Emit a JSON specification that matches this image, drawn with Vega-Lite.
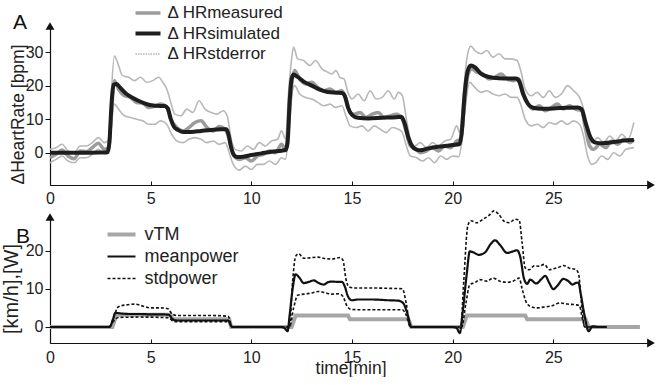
{
  "$schema": "https://vega.github.io/schema/vega-lite/v6.json",
  "background": "white",
  "padding": {"left": 1, "top": 0, "right": 0, "bottom": 0},
  "bounds": "flush",
  "spacing": 32,
  "resolve": {
    "scale": {"color": "independent", "strokeWidth": "independent", "strokeDash": "independent"},
    "legend": {"color": "independent", "strokeWidth": "independent", "strokeDash": "independent"}
  },
  "config": {
    "font": "Liberation Sans",
    "view": {"stroke": null},
    "axis": {"grid": false, "labelFlush": false, "domainColor": "#111", "tickColor": "#111", "domainWidth": 1.2, "tickWidth": 1, "labelColor": "#222", "titleColor": "#222", "labelFont": "Liberation Sans", "titleFont": "Liberation Sans", "labelFontSize": 16, "titleFontSize": 17.5, "titleFontWeight": "normal"},
    "title": {"font": "Liberation Sans", "fontWeight": "normal", "fontSize": 21, "color": "#111"}
  },
  "vconcat": [
    {
      "width": 601,
      "height": 159,
      "title": {"text": "A", "anchor": "start", "frame": "group", "offset": 0, "dx": -37, "dy": 33},
      "layer": [
        {
          "data": {"values": [
            {"t":0,"v":0,"s":"simulated"},{"t":1,"v":0,"s":"simulated"},{"t":2,"v":0,"s":"simulated"},{"t":2.85,"v":0.1,"s":"simulated"},{"t":2.95,"v":3,"s":"simulated"},{"t":3.05,"v":14,"s":"simulated"},{"t":3.15,"v":20.2,"s":"simulated"},{"t":3.3,"v":20.5,"s":"simulated"},{"t":3.5,"v":19.3,"s":"simulated"},{"t":3.8,"v":17.5,"s":"simulated"},{"t":4.1,"v":16.4,"s":"simulated"},{"t":4.5,"v":15.2,"s":"simulated"},{"t":4.9,"v":14.3,"s":"simulated"},{"t":5.3,"v":14.0,"s":"simulated"},{"t":5.7,"v":13.9,"s":"simulated"},{"t":5.85,"v":13.2,"s":"simulated"},{"t":6.0,"v":10,"s":"simulated"},{"t":6.15,"v":7.8,"s":"simulated"},{"t":6.35,"v":6.8,"s":"simulated"},{"t":6.6,"v":6.2,"s":"simulated"},{"t":7.0,"v":6.2,"s":"simulated"},{"t":7.5,"v":6.5,"s":"simulated"},{"t":8.0,"v":6.8,"s":"simulated"},{"t":8.5,"v":7.0,"s":"simulated"},{"t":8.75,"v":7.0,"s":"simulated"},{"t":8.85,"v":5.8,"s":"simulated"},{"t":9.0,"v":1.5,"s":"simulated"},{"t":9.15,"v":-0.8,"s":"simulated"},{"t":9.3,"v":-1.3,"s":"simulated"},{"t":9.6,"v":-1.2,"s":"simulated"},{"t":10.0,"v":-0.7,"s":"simulated"},{"t":10.5,"v":-0.2,"s":"simulated"},{"t":11.0,"v":0.3,"s":"simulated"},{"t":11.5,"v":0.6,"s":"simulated"},{"t":11.7,"v":0.8,"s":"simulated"},{"t":11.8,"v":3,"s":"simulated"},{"t":11.9,"v":15,"s":"simulated"},{"t":12.0,"v":22,"s":"simulated"},{"t":12.1,"v":23.3,"s":"simulated"},{"t":12.3,"v":22.6,"s":"simulated"},{"t":12.6,"v":21.2,"s":"simulated"},{"t":13.0,"v":20,"s":"simulated"},{"t":13.4,"v":18.8,"s":"simulated"},{"t":13.8,"v":18.1,"s":"simulated"},{"t":14.2,"v":17.9,"s":"simulated"},{"t":14.5,"v":17.8,"s":"simulated"},{"t":14.65,"v":16.8,"s":"simulated"},{"t":14.8,"v":13.5,"s":"simulated"},{"t":15.0,"v":11.3,"s":"simulated"},{"t":15.3,"v":10.4,"s":"simulated"},{"t":15.8,"v":10.2,"s":"simulated"},{"t":16.5,"v":10.4,"s":"simulated"},{"t":17.2,"v":10.6,"s":"simulated"},{"t":17.45,"v":10.7,"s":"simulated"},{"t":17.6,"v":9,"s":"simulated"},{"t":17.8,"v":4.5,"s":"simulated"},{"t":18.0,"v":1.8,"s":"simulated"},{"t":18.2,"v":0.9,"s":"simulated"},{"t":18.4,"v":0.7,"s":"simulated"},{"t":18.8,"v":1.3,"s":"simulated"},{"t":19.5,"v":1.9,"s":"simulated"},{"t":20.0,"v":2.3,"s":"simulated"},{"t":20.35,"v":2.6,"s":"simulated"},{"t":20.45,"v":6,"s":"simulated"},{"t":20.6,"v":18,"s":"simulated"},{"t":20.75,"v":24.5,"s":"simulated"},{"t":20.9,"v":26,"s":"simulated"},{"t":21.1,"v":25.5,"s":"simulated"},{"t":21.4,"v":23.6,"s":"simulated"},{"t":21.8,"v":22.6,"s":"simulated"},{"t":22.3,"v":22.2,"s":"simulated"},{"t":22.8,"v":22.1,"s":"simulated"},{"t":23.15,"v":22.1,"s":"simulated"},{"t":23.3,"v":21.3,"s":"simulated"},{"t":23.5,"v":17.5,"s":"simulated"},{"t":23.75,"v":14.5,"s":"simulated"},{"t":24.0,"v":13.4,"s":"simulated"},{"t":24.4,"v":13.1,"s":"simulated"},{"t":25.0,"v":13.2,"s":"simulated"},{"t":25.6,"v":13.4,"s":"simulated"},{"t":26.2,"v":13.5,"s":"simulated"},{"t":26.4,"v":13.0,"s":"simulated"},{"t":26.6,"v":9,"s":"simulated"},{"t":26.85,"v":4.5,"s":"simulated"},{"t":27.1,"v":3.0,"s":"simulated"},{"t":27.4,"v":2.8,"s":"simulated"},{"t":28.0,"v":3.2,"s":"simulated"},{"t":28.5,"v":3.6,"s":"simulated"},{"t":29.0,"v":3.8,"s":"simulated"},

            {"t":0,"v":-1.5,"s":"measured"},{"t":0.3,"v":-0.5,"s":"measured"},{"t":0.6,"v":0.8,"s":"measured"},{"t":0.9,"v":-1,"s":"measured"},{"t":1.2,"v":-1.8,"s":"measured"},{"t":1.5,"v":0.5,"s":"measured"},{"t":1.8,"v":0.3,"s":"measured"},{"t":2.1,"v":1.5,"s":"measured"},{"t":2.4,"v":2.8,"s":"measured"},{"t":2.7,"v":1.0,"s":"measured"},{"t":2.9,"v":1.5,"s":"measured"},{"t":3.05,"v":12,"s":"measured"},{"t":3.2,"v":21.5,"s":"measured"},{"t":3.4,"v":19,"s":"measured"},{"t":3.7,"v":17,"s":"measured"},{"t":4.0,"v":16.5,"s":"measured"},{"t":4.3,"v":15,"s":"measured"},{"t":4.6,"v":14.8,"s":"measured"},{"t":4.9,"v":13.5,"s":"measured"},{"t":5.2,"v":13.8,"s":"measured"},{"t":5.5,"v":14.5,"s":"measured"},{"t":5.8,"v":13.5,"s":"measured"},{"t":6.0,"v":10,"s":"measured"},{"t":6.3,"v":7.5,"s":"measured"},{"t":6.6,"v":6.5,"s":"measured"},{"t":6.9,"v":7.5,"s":"measured"},{"t":7.2,"v":9,"s":"measured"},{"t":7.5,"v":9.5,"s":"measured"},{"t":7.8,"v":7.5,"s":"measured"},{"t":8.1,"v":6.5,"s":"measured"},{"t":8.4,"v":7.8,"s":"measured"},{"t":8.7,"v":7,"s":"measured"},{"t":8.9,"v":4,"s":"measured"},{"t":9.1,"v":-0.5,"s":"measured"},{"t":9.4,"v":-2,"s":"measured"},{"t":9.7,"v":-1.5,"s":"measured"},{"t":10.0,"v":-2.5,"s":"measured"},{"t":10.3,"v":-1,"s":"measured"},{"t":10.6,"v":-0.5,"s":"measured"},{"t":10.9,"v":0.5,"s":"measured"},{"t":11.2,"v":0,"s":"measured"},{"t":11.5,"v":2.5,"s":"measured"},{"t":11.7,"v":1,"s":"measured"},{"t":11.85,"v":8,"s":"measured"},{"t":12.0,"v":20,"s":"measured"},{"t":12.15,"v":24.5,"s":"measured"},{"t":12.4,"v":22,"s":"measured"},{"t":12.7,"v":20.5,"s":"measured"},{"t":13.0,"v":21,"s":"measured"},{"t":13.3,"v":19.5,"s":"measured"},{"t":13.6,"v":18.5,"s":"measured"},{"t":13.9,"v":19,"s":"measured"},{"t":14.2,"v":18,"s":"measured"},{"t":14.5,"v":18.5,"s":"measured"},{"t":14.7,"v":16,"s":"measured"},{"t":14.9,"v":12,"s":"measured"},{"t":15.1,"v":11.5,"s":"measured"},{"t":15.4,"v":12,"s":"measured"},{"t":15.7,"v":10.5,"s":"measured"},{"t":16.0,"v":11.5,"s":"measured"},{"t":16.3,"v":12,"s":"measured"},{"t":16.6,"v":10.5,"s":"measured"},{"t":16.9,"v":11,"s":"measured"},{"t":17.2,"v":11.5,"s":"measured"},{"t":17.5,"v":10,"s":"measured"},{"t":17.7,"v":6,"s":"measured"},{"t":17.9,"v":2,"s":"measured"},{"t":18.1,"v":1.5,"s":"measured"},{"t":18.4,"v":0,"s":"measured"},{"t":18.7,"v":0.5,"s":"measured"},{"t":19.0,"v":1.5,"s":"measured"},{"t":19.3,"v":0.5,"s":"measured"},{"t":19.6,"v":2,"s":"measured"},{"t":19.9,"v":1.5,"s":"measured"},{"t":20.2,"v":3.5,"s":"measured"},{"t":20.4,"v":4,"s":"measured"},{"t":20.55,"v":12,"s":"measured"},{"t":20.75,"v":23,"s":"measured"},{"t":20.95,"v":25,"s":"measured"},{"t":21.2,"v":24,"s":"measured"},{"t":21.5,"v":23.5,"s":"measured"},{"t":21.8,"v":22,"s":"measured"},{"t":22.1,"v":22.5,"s":"measured"},{"t":22.4,"v":23.5,"s":"measured"},{"t":22.7,"v":22,"s":"measured"},{"t":23.0,"v":21.5,"s":"measured"},{"t":23.3,"v":22,"s":"measured"},{"t":23.5,"v":18,"s":"measured"},{"t":23.75,"v":14.5,"s":"measured"},{"t":24.0,"v":13,"s":"measured"},{"t":24.3,"v":14,"s":"measured"},{"t":24.6,"v":12.5,"s":"measured"},{"t":24.9,"v":13.5,"s":"measured"},{"t":25.2,"v":14.5,"s":"measured"},{"t":25.5,"v":13,"s":"measured"},{"t":25.8,"v":14,"s":"measured"},{"t":26.1,"v":13,"s":"measured"},{"t":26.4,"v":12.5,"s":"measured"},{"t":26.6,"v":7,"s":"measured"},{"t":26.8,"v":2,"s":"measured"},{"t":27.0,"v":1,"s":"measured"},{"t":27.3,"v":2.5,"s":"measured"},{"t":27.6,"v":1.5,"s":"measured"},{"t":27.9,"v":3.5,"s":"measured"},{"t":28.2,"v":2.5,"s":"measured"},{"t":28.5,"v":4,"s":"measured"},{"t":28.8,"v":3,"s":"measured"},{"t":29.0,"v":4,"s":"measured"},

            {"t":0,"v":1,"s":"stderror","g":"up"},{"t":0.3,"v":1.5,"s":"stderror","g":"up"},{"t":0.6,"v":2.5,"s":"stderror","g":"up"},{"t":0.9,"v":0.5,"s":"stderror","g":"up"},{"t":1.2,"v":0,"s":"stderror","g":"up"},{"t":1.5,"v":2,"s":"stderror","g":"up"},{"t":1.8,"v":2,"s":"stderror","g":"up"},{"t":2.1,"v":3,"s":"stderror","g":"up"},{"t":2.4,"v":4.5,"s":"stderror","g":"up"},{"t":2.7,"v":3,"s":"stderror","g":"up"},{"t":2.95,"v":4,"s":"stderror","g":"up"},{"t":3.05,"v":18,"s":"stderror","g":"up"},{"t":3.2,"v":28.8,"s":"stderror","g":"up"},{"t":3.35,"v":27,"s":"stderror","g":"up"},{"t":3.6,"v":23,"s":"stderror","g":"up"},{"t":3.9,"v":22.5,"s":"stderror","g":"up"},{"t":4.2,"v":21.5,"s":"stderror","g":"up"},{"t":4.5,"v":22.5,"s":"stderror","g":"up"},{"t":4.8,"v":21,"s":"stderror","g":"up"},{"t":5.1,"v":21.5,"s":"stderror","g":"up"},{"t":5.4,"v":22.5,"s":"stderror","g":"up"},{"t":5.6,"v":21,"s":"stderror","g":"up"},{"t":5.8,"v":19,"s":"stderror","g":"up"},{"t":6.0,"v":15,"s":"stderror","g":"up"},{"t":6.2,"v":11.5,"s":"stderror","g":"up"},{"t":6.5,"v":11,"s":"stderror","g":"up"},{"t":6.8,"v":13,"s":"stderror","g":"up"},{"t":7.1,"v":12,"s":"stderror","g":"up"},{"t":7.4,"v":15.5,"s":"stderror","g":"up"},{"t":7.7,"v":13,"s":"stderror","g":"up"},{"t":8.0,"v":12,"s":"stderror","g":"up"},{"t":8.3,"v":11.5,"s":"stderror","g":"up"},{"t":8.6,"v":12.5,"s":"stderror","g":"up"},{"t":8.8,"v":11,"s":"stderror","g":"up"},{"t":9.0,"v":4,"s":"stderror","g":"up"},{"t":9.2,"v":1,"s":"stderror","g":"up"},{"t":9.5,"v":0.5,"s":"stderror","g":"up"},{"t":9.8,"v":2,"s":"stderror","g":"up"},{"t":10.1,"v":1,"s":"stderror","g":"up"},{"t":10.4,"v":3,"s":"stderror","g":"up"},{"t":10.7,"v":2,"s":"stderror","g":"up"},{"t":11.0,"v":3.5,"s":"stderror","g":"up"},{"t":11.3,"v":4,"s":"stderror","g":"up"},{"t":11.5,"v":6.5,"s":"stderror","g":"up"},{"t":11.7,"v":4,"s":"stderror","g":"up"},{"t":11.85,"v":18,"s":"stderror","g":"up"},{"t":12.0,"v":28,"s":"stderror","g":"up"},{"t":12.1,"v":31.5,"s":"stderror","g":"up"},{"t":12.3,"v":28,"s":"stderror","g":"up"},{"t":12.6,"v":27.5,"s":"stderror","g":"up"},{"t":12.9,"v":26,"s":"stderror","g":"up"},{"t":13.2,"v":27.5,"s":"stderror","g":"up"},{"t":13.5,"v":25,"s":"stderror","g":"up"},{"t":13.8,"v":24,"s":"stderror","g":"up"},{"t":14.0,"v":23.5,"s":"stderror","g":"up"},{"t":14.2,"v":24.5,"s":"stderror","g":"up"},{"t":14.4,"v":22.5,"s":"stderror","g":"up"},{"t":14.6,"v":22,"s":"stderror","g":"up"},{"t":14.8,"v":18,"s":"stderror","g":"up"},{"t":15.0,"v":16,"s":"stderror","g":"up"},{"t":15.3,"v":17.5,"s":"stderror","g":"up"},{"t":15.6,"v":15.5,"s":"stderror","g":"up"},{"t":15.9,"v":18.5,"s":"stderror","g":"up"},{"t":16.2,"v":16,"s":"stderror","g":"up"},{"t":16.5,"v":16.5,"s":"stderror","g":"up"},{"t":16.8,"v":18.5,"s":"stderror","g":"up"},{"t":17.1,"v":16,"s":"stderror","g":"up"},{"t":17.3,"v":18,"s":"stderror","g":"up"},{"t":17.5,"v":17,"s":"stderror","g":"up"},{"t":17.7,"v":10,"s":"stderror","g":"up"},{"t":17.9,"v":4,"s":"stderror","g":"up"},{"t":18.1,"v":2,"s":"stderror","g":"up"},{"t":18.4,"v":3,"s":"stderror","g":"up"},{"t":18.7,"v":1.5,"s":"stderror","g":"up"},{"t":19.0,"v":3,"s":"stderror","g":"up"},{"t":19.3,"v":2,"s":"stderror","g":"up"},{"t":19.6,"v":3.5,"s":"stderror","g":"up"},{"t":19.9,"v":4,"s":"stderror","g":"up"},{"t":20.2,"v":8,"s":"stderror","g":"up"},{"t":20.35,"v":6,"s":"stderror","g":"up"},{"t":20.5,"v":15,"s":"stderror","g":"up"},{"t":20.7,"v":28,"s":"stderror","g":"up"},{"t":20.9,"v":31.8,"s":"stderror","g":"up"},{"t":21.1,"v":30.5,"s":"stderror","g":"up"},{"t":21.4,"v":29.5,"s":"stderror","g":"up"},{"t":21.7,"v":30.5,"s":"stderror","g":"up"},{"t":22.0,"v":28.5,"s":"stderror","g":"up"},{"t":22.3,"v":29.5,"s":"stderror","g":"up"},{"t":22.6,"v":28,"s":"stderror","g":"up"},{"t":22.9,"v":28,"s":"stderror","g":"up"},{"t":23.2,"v":27.5,"s":"stderror","g":"up"},{"t":23.4,"v":24,"s":"stderror","g":"up"},{"t":23.6,"v":19,"s":"stderror","g":"up"},{"t":23.9,"v":17,"s":"stderror","g":"up"},{"t":24.2,"v":18,"s":"stderror","g":"up"},{"t":24.5,"v":16.5,"s":"stderror","g":"up"},{"t":24.8,"v":18.5,"s":"stderror","g":"up"},{"t":25.1,"v":16.5,"s":"stderror","g":"up"},{"t":25.4,"v":17.5,"s":"stderror","g":"up"},{"t":25.7,"v":20,"s":"stderror","g":"up"},{"t":26.0,"v":18.5,"s":"stderror","g":"up"},{"t":26.3,"v":16.5,"s":"stderror","g":"up"},{"t":26.5,"v":13,"s":"stderror","g":"up"},{"t":26.7,"v":6,"s":"stderror","g":"up"},{"t":26.9,"v":3,"s":"stderror","g":"up"},{"t":27.2,"v":4.5,"s":"stderror","g":"up"},{"t":27.5,"v":3,"s":"stderror","g":"up"},{"t":27.8,"v":5,"s":"stderror","g":"up"},{"t":28.1,"v":3.5,"s":"stderror","g":"up"},{"t":28.4,"v":5.5,"s":"stderror","g":"up"},{"t":28.7,"v":4,"s":"stderror","g":"up"},{"t":29.0,"v":9,"s":"stderror","g":"up"},

            {"t":0,"v":-3,"s":"stderror","g":"lo"},{"t":0.3,"v":-2,"s":"stderror","g":"lo"},{"t":0.6,"v":-1,"s":"stderror","g":"lo"},{"t":0.9,"v":-2.5,"s":"stderror","g":"lo"},{"t":1.2,"v":-3,"s":"stderror","g":"lo"},{"t":1.5,"v":-1.5,"s":"stderror","g":"lo"},{"t":1.8,"v":-1.5,"s":"stderror","g":"lo"},{"t":2.1,"v":-0.5,"s":"stderror","g":"lo"},{"t":2.4,"v":1,"s":"stderror","g":"lo"},{"t":2.7,"v":-0.5,"s":"stderror","g":"lo"},{"t":2.95,"v":0,"s":"stderror","g":"lo"},{"t":3.05,"v":8,"s":"stderror","g":"lo"},{"t":3.2,"v":14.5,"s":"stderror","g":"lo"},{"t":3.4,"v":13,"s":"stderror","g":"lo"},{"t":3.7,"v":11,"s":"stderror","g":"lo"},{"t":4.0,"v":10.5,"s":"stderror","g":"lo"},{"t":4.3,"v":10,"s":"stderror","g":"lo"},{"t":4.6,"v":9.5,"s":"stderror","g":"lo"},{"t":4.9,"v":8.5,"s":"stderror","g":"lo"},{"t":5.2,"v":8.5,"s":"stderror","g":"lo"},{"t":5.5,"v":9.5,"s":"stderror","g":"lo"},{"t":5.8,"v":8.5,"s":"stderror","g":"lo"},{"t":6.0,"v":6,"s":"stderror","g":"lo"},{"t":6.3,"v":3.5,"s":"stderror","g":"lo"},{"t":6.6,"v":3,"s":"stderror","g":"lo"},{"t":6.9,"v":4,"s":"stderror","g":"lo"},{"t":7.2,"v":4.5,"s":"stderror","g":"lo"},{"t":7.5,"v":4,"s":"stderror","g":"lo"},{"t":7.8,"v":3,"s":"stderror","g":"lo"},{"t":8.1,"v":3.5,"s":"stderror","g":"lo"},{"t":8.4,"v":2.5,"s":"stderror","g":"lo"},{"t":8.7,"v":3,"s":"stderror","g":"lo"},{"t":8.9,"v":0,"s":"stderror","g":"lo"},{"t":9.1,"v":-3.5,"s":"stderror","g":"lo"},{"t":9.4,"v":-5.2,"s":"stderror","g":"lo"},{"t":9.7,"v":-4,"s":"stderror","g":"lo"},{"t":10.0,"v":-5,"s":"stderror","g":"lo"},{"t":10.3,"v":-3.5,"s":"stderror","g":"lo"},{"t":10.6,"v":-3.5,"s":"stderror","g":"lo"},{"t":10.9,"v":-2.5,"s":"stderror","g":"lo"},{"t":11.2,"v":-3.5,"s":"stderror","g":"lo"},{"t":11.5,"v":-1.5,"s":"stderror","g":"lo"},{"t":11.7,"v":-2,"s":"stderror","g":"lo"},{"t":11.85,"v":6,"s":"stderror","g":"lo"},{"t":12.0,"v":17,"s":"stderror","g":"lo"},{"t":12.15,"v":20,"s":"stderror","g":"lo"},{"t":12.4,"v":17.5,"s":"stderror","g":"lo"},{"t":12.7,"v":16.5,"s":"stderror","g":"lo"},{"t":13.0,"v":16,"s":"stderror","g":"lo"},{"t":13.3,"v":15,"s":"stderror","g":"lo"},{"t":13.6,"v":14,"s":"stderror","g":"lo"},{"t":13.9,"v":14.5,"s":"stderror","g":"lo"},{"t":14.2,"v":13.5,"s":"stderror","g":"lo"},{"t":14.5,"v":14,"s":"stderror","g":"lo"},{"t":14.7,"v":11,"s":"stderror","g":"lo"},{"t":14.9,"v":8,"s":"stderror","g":"lo"},{"t":15.2,"v":7.5,"s":"stderror","g":"lo"},{"t":15.5,"v":8,"s":"stderror","g":"lo"},{"t":15.8,"v":6.5,"s":"stderror","g":"lo"},{"t":16.1,"v":8,"s":"stderror","g":"lo"},{"t":16.4,"v":7,"s":"stderror","g":"lo"},{"t":16.7,"v":6,"s":"stderror","g":"lo"},{"t":17.0,"v":7.5,"s":"stderror","g":"lo"},{"t":17.3,"v":7,"s":"stderror","g":"lo"},{"t":17.5,"v":6,"s":"stderror","g":"lo"},{"t":17.7,"v":2,"s":"stderror","g":"lo"},{"t":17.9,"v":-1,"s":"stderror","g":"lo"},{"t":18.2,"v":-1.5,"s":"stderror","g":"lo"},{"t":18.5,"v":-2.5,"s":"stderror","g":"lo"},{"t":18.8,"v":-1.5,"s":"stderror","g":"lo"},{"t":19.1,"v":-3,"s":"stderror","g":"lo"},{"t":19.4,"v":-1,"s":"stderror","g":"lo"},{"t":19.7,"v":-2,"s":"stderror","g":"lo"},{"t":20.0,"v":-1,"s":"stderror","g":"lo"},{"t":20.3,"v":-1.2,"s":"stderror","g":"lo"},{"t":20.45,"v":3,"s":"stderror","g":"lo"},{"t":20.65,"v":15,"s":"stderror","g":"lo"},{"t":20.85,"v":21,"s":"stderror","g":"lo"},{"t":21.1,"v":19.5,"s":"stderror","g":"lo"},{"t":21.4,"v":18,"s":"stderror","g":"lo"},{"t":21.7,"v":18.5,"s":"stderror","g":"lo"},{"t":22.0,"v":17.5,"s":"stderror","g":"lo"},{"t":22.3,"v":17,"s":"stderror","g":"lo"},{"t":22.6,"v":17.5,"s":"stderror","g":"lo"},{"t":22.9,"v":16.5,"s":"stderror","g":"lo"},{"t":23.2,"v":16.5,"s":"stderror","g":"lo"},{"t":23.4,"v":14,"s":"stderror","g":"lo"},{"t":23.6,"v":10,"s":"stderror","g":"lo"},{"t":23.9,"v":8,"s":"stderror","g":"lo"},{"t":24.2,"v":8.5,"s":"stderror","g":"lo"},{"t":24.5,"v":7.5,"s":"stderror","g":"lo"},{"t":24.8,"v":9,"s":"stderror","g":"lo"},{"t":25.1,"v":8.5,"s":"stderror","g":"lo"},{"t":25.4,"v":9.5,"s":"stderror","g":"lo"},{"t":25.7,"v":8.5,"s":"stderror","g":"lo"},{"t":26.0,"v":9.5,"s":"stderror","g":"lo"},{"t":26.3,"v":8.5,"s":"stderror","g":"lo"},{"t":26.5,"v":5,"s":"stderror","g":"lo"},{"t":26.7,"v":-1,"s":"stderror","g":"lo"},{"t":26.9,"v":-3.5,"s":"stderror","g":"lo"},{"t":27.1,"v":-3,"s":"stderror","g":"lo"},{"t":27.4,"v":-1,"s":"stderror","g":"lo"},{"t":27.7,"v":-2,"s":"stderror","g":"lo"},{"t":28.0,"v":0,"s":"stderror","g":"lo"},{"t":28.3,"v":-1,"s":"stderror","g":"lo"},{"t":28.6,"v":1,"s":"stderror","g":"lo"},{"t":29.0,"v":1.5,"s":"stderror","g":"lo"}
          ]},
          "encoding": {
            "x": {"field": "t", "type": "quantitative", "scale": {"domain": [0, 29.85], "nice": false, "zero": false},
                  "axis": {"values": [0, 5, 10, 15, 20, 25], "title": null, "tickSize": -4, "labelPadding": 9}},
            "y": {"field": "v", "type": "quantitative", "scale": {"domain": [-9.64, 37.8], "nice": false, "zero": false},
                  "axis": {"values": [0, 10, 20, 30], "title": "ΔHeartRate [bpm]", "tickSize": 5, "labelPadding": 2, "titlePadding": -2, "titleY": 88}},
            "color": {"field": "s", "type": "nominal", "scale": {"domain": ["measured", "simulated", "stderror"], "range": ["#9c9c9c", "#1e1e1e", "#b8b8b8"]},
                      "legend": {"title": null, "orient": "none", "legendX": 80.5, "legendY": -26, "padding": 3, "symbolType": "stroke", "symbolSize": 625, "clipHeight": 20, "labelFontSize": 17, "labelColor": "#222", "labelOffset": 5, "rowPadding": 0.5, "labelExpr": "'Δ HR' + datum.label",
                                 "encode": {"symbols": {"update": {
                                   "strokeDash": {"signal": "datum.value === 'stderror' ? [1.5, 1] : [1, 0]"},
                                   "strokeWidth": {"signal": "datum.value === 'stderror' ? 1.2 : 3"},
                                   "stroke": {"signal": "datum.value === 'simulated' ? '#474747' : datum.value === 'measured' ? '#a5a5a5' : '#b5b5b5'"}}}}}},
            "strokeWidth": {"field": "s", "type": "nominal", "scale": {"type": "ordinal", "domain": ["measured", "simulated", "stderror"], "range": [3.5, 4, 1.6]},
                      "legend": {"title": null, "orient": "none", "legendX": 80.5, "legendY": -26, "padding": 3, "symbolType": "stroke", "symbolSize": 625, "clipHeight": 20, "labelFontSize": 17, "labelColor": "#222", "labelOffset": 5, "rowPadding": 0.5, "labelExpr": "'Δ HR' + datum.label",
                                 "encode": {"symbols": {"update": {
                                   "strokeDash": {"signal": "datum.value === 'stderror' ? [1.5, 1] : [1, 0]"},
                                   "strokeWidth": {"signal": "datum.value === 'stderror' ? 1.2 : 3"},
                                   "stroke": {"signal": "datum.value === 'simulated' ? '#474747' : datum.value === 'measured' ? '#a5a5a5' : '#b5b5b5'"}}}}}}
          },
          "layer": [
            {"transform": [{"filter": "datum.s == 'stderror'"}], "mark": {"type": "line", "interpolate": "monotone"}, "encoding": {"detail": {"field": "g"}}},
            {"transform": [{"filter": "datum.s == 'measured'"}], "mark": {"type": "line", "interpolate": "monotone"}},
            {"transform": [{"filter": "datum.s == 'simulated'"}], "mark": {"type": "line", "interpolate": "monotone"}}
          ]
        },
        {"data": {"values": [{}]}, "mark": {"type": "point", "shape": "triangle-up", "filled": true, "size": 80, "color": "#111", "opacity": 1},
         "encoding": {"x": {"datum": 0, "type": "quantitative"}, "y": {"datum": 37.8, "type": "quantitative"}}},
        {"data": {"values": [{}]}, "mark": {"type": "point", "shape": "triangle-right", "filled": true, "size": 80, "color": "#111", "opacity": 1},
         "encoding": {"x": {"datum": 29.85, "type": "quantitative"}, "y": {"datum": -9.64, "type": "quantitative"}}}
      ]
    },
    {
      "width": 601,
      "height": 126,
      "title": {"text": "B", "anchor": "start", "frame": "group", "offset": 0, "dx": -34, "dy": 39.5},
      "layer": [
        {
          "data": {"values": [
            {"t":0,"v":0,"s":"vTM"},{"t":3.1,"v":0,"s":"vTM"},{"t":3.3,"v":3.2,"s":"vTM"},{"t":6.0,"v":3.2,"s":"vTM"},{"t":6.1,"v":2.0,"s":"vTM"},{"t":8.9,"v":2.0,"s":"vTM"},{"t":9.0,"v":0,"s":"vTM"},{"t":12.0,"v":0,"s":"vTM"},{"t":12.2,"v":3.0,"s":"vTM"},{"t":14.8,"v":3.0,"s":"vTM"},{"t":14.9,"v":2.0,"s":"vTM"},{"t":17.8,"v":2.0,"s":"vTM"},{"t":17.95,"v":0,"s":"vTM"},{"t":20.5,"v":0,"s":"vTM"},{"t":20.7,"v":3.0,"s":"vTM"},{"t":23.6,"v":3.0,"s":"vTM"},{"t":23.7,"v":2.0,"s":"vTM"},{"t":26.6,"v":2.0,"s":"vTM"},{"t":26.75,"v":0,"s":"vTM"},{"t":29.3,"v":0,"s":"vTM"},

            {"t":0,"v":0,"s":"meanpower"},{"t":2.95,"v":0,"s":"meanpower"},{"t":3.1,"v":1.5,"s":"meanpower"},{"t":3.25,"v":3.7,"s":"meanpower"},{"t":3.6,"v":3.5,"s":"meanpower"},{"t":4.0,"v":3.4,"s":"meanpower"},{"t":4.5,"v":3.4,"s":"meanpower"},{"t":5.0,"v":3.3,"s":"meanpower"},{"t":5.5,"v":3.3,"s":"meanpower"},{"t":5.9,"v":3.2,"s":"meanpower"},{"t":6.1,"v":2.0,"s":"meanpower"},{"t":6.3,"v":1.7,"s":"meanpower"},{"t":7.0,"v":1.7,"s":"meanpower"},{"t":8.0,"v":1.7,"s":"meanpower"},{"t":8.85,"v":1.7,"s":"meanpower"},{"t":9.05,"v":0,"s":"meanpower"},{"t":11.5,"v":0,"s":"meanpower"},{"t":11.65,"v":-0.3,"s":"meanpower"},{"t":11.8,"v":-1.1,"s":"meanpower"},{"t":11.9,"v":3,"s":"meanpower"},{"t":12.05,"v":10,"s":"meanpower"},{"t":12.2,"v":13.8,"s":"meanpower"},{"t":12.4,"v":12.8,"s":"meanpower"},{"t":12.6,"v":11.5,"s":"meanpower"},{"t":12.85,"v":11.8,"s":"meanpower"},{"t":13.1,"v":12.2,"s":"meanpower"},{"t":13.35,"v":11.5,"s":"meanpower"},{"t":13.6,"v":11.1,"s":"meanpower"},{"t":13.8,"v":11.7,"s":"meanpower"},{"t":14.0,"v":11.9,"s":"meanpower"},{"t":14.3,"v":11.8,"s":"meanpower"},{"t":14.5,"v":11.8,"s":"meanpower"},{"t":14.65,"v":10.5,"s":"meanpower"},{"t":14.8,"v":8.0,"s":"meanpower"},{"t":15.0,"v":7.0,"s":"meanpower"},{"t":15.3,"v":7.2,"s":"meanpower"},{"t":16.0,"v":7.2,"s":"meanpower"},{"t":16.8,"v":7.0,"s":"meanpower"},{"t":17.3,"v":6.9,"s":"meanpower"},{"t":17.55,"v":6.2,"s":"meanpower"},{"t":17.75,"v":3.5,"s":"meanpower"},{"t":17.95,"v":0,"s":"meanpower"},{"t":20.0,"v":0,"s":"meanpower"},{"t":20.2,"v":-0.3,"s":"meanpower"},{"t":20.35,"v":-1.6,"s":"meanpower"},{"t":20.5,"v":4,"s":"meanpower"},{"t":20.7,"v":14,"s":"meanpower"},{"t":20.85,"v":19.8,"s":"meanpower"},{"t":21.0,"v":19.6,"s":"meanpower"},{"t":21.3,"v":18.9,"s":"meanpower"},{"t":21.6,"v":19.5,"s":"meanpower"},{"t":21.9,"v":21.8,"s":"meanpower"},{"t":22.1,"v":22.7,"s":"meanpower"},{"t":22.35,"v":21.5,"s":"meanpower"},{"t":22.7,"v":19.4,"s":"meanpower"},{"t":23.0,"v":19.8,"s":"meanpower"},{"t":23.2,"v":20.1,"s":"meanpower"},{"t":23.35,"v":18.5,"s":"meanpower"},{"t":23.55,"v":12.5,"s":"meanpower"},{"t":23.7,"v":11.3,"s":"meanpower"},{"t":23.85,"v":12.4,"s":"meanpower"},{"t":24.15,"v":11.4,"s":"meanpower"},{"t":24.4,"v":12.5,"s":"meanpower"},{"t":24.6,"v":13.4,"s":"meanpower"},{"t":24.8,"v":11.5,"s":"meanpower"},{"t":25.0,"v":9.9,"s":"meanpower"},{"t":25.2,"v":10.8,"s":"meanpower"},{"t":25.5,"v":12.6,"s":"meanpower"},{"t":25.75,"v":12.0,"s":"meanpower"},{"t":25.95,"v":11.1,"s":"meanpower"},{"t":26.1,"v":11.5,"s":"meanpower"},{"t":26.25,"v":11.6,"s":"meanpower"},{"t":26.35,"v":9,"s":"meanpower"},{"t":26.55,"v":3,"s":"meanpower"},{"t":26.75,"v":-1.1,"s":"meanpower"},{"t":26.95,"v":0.2,"s":"meanpower"},{"t":27.2,"v":0,"s":"meanpower"},{"t":27.65,"v":0,"s":"meanpower"},

            {"t":0,"v":0,"s":"stdpower","g":"up"},{"t":2.95,"v":0,"s":"stdpower","g":"up"},{"t":3.15,"v":2.5,"s":"stdpower","g":"up"},{"t":3.4,"v":5.3,"s":"stdpower","g":"up"},{"t":3.8,"v":5.8,"s":"stdpower","g":"up"},{"t":4.2,"v":6.0,"s":"stdpower","g":"up"},{"t":4.6,"v":5.5,"s":"stdpower","g":"up"},{"t":5.0,"v":5.0,"s":"stdpower","g":"up"},{"t":5.5,"v":5.0,"s":"stdpower","g":"up"},{"t":5.85,"v":4.8,"s":"stdpower","g":"up"},{"t":6.05,"v":3.5,"s":"stdpower","g":"up"},{"t":6.3,"v":3.0,"s":"stdpower","g":"up"},{"t":7.0,"v":3.0,"s":"stdpower","g":"up"},{"t":8.0,"v":3.0,"s":"stdpower","g":"up"},{"t":8.85,"v":2.8,"s":"stdpower","g":"up"},{"t":9.05,"v":0,"s":"stdpower","g":"up"},{"t":11.9,"v":0,"s":"stdpower","g":"up"},{"t":12.05,"v":12,"s":"stdpower","g":"up"},{"t":12.2,"v":18.5,"s":"stdpower","g":"up"},{"t":12.35,"v":19.2,"s":"stdpower","g":"up"},{"t":12.6,"v":18.0,"s":"stdpower","g":"up"},{"t":12.9,"v":18.1,"s":"stdpower","g":"up"},{"t":13.3,"v":18.3,"s":"stdpower","g":"up"},{"t":13.7,"v":17.9,"s":"stdpower","g":"up"},{"t":14.0,"v":17.8,"s":"stdpower","g":"up"},{"t":14.4,"v":18.2,"s":"stdpower","g":"up"},{"t":14.55,"v":17.5,"s":"stdpower","g":"up"},{"t":14.7,"v":12.5,"s":"stdpower","g":"up"},{"t":14.85,"v":10.5,"s":"stdpower","g":"up"},{"t":15.2,"v":10.2,"s":"stdpower","g":"up"},{"t":16.0,"v":10.2,"s":"stdpower","g":"up"},{"t":17.0,"v":10.1,"s":"stdpower","g":"up"},{"t":17.5,"v":10.0,"s":"stdpower","g":"up"},{"t":17.7,"v":6,"s":"stdpower","g":"up"},{"t":17.9,"v":0,"s":"stdpower","g":"up"},{"t":20.4,"v":0,"s":"stdpower","g":"up"},{"t":20.55,"v":12,"s":"stdpower","g":"up"},{"t":20.75,"v":26.5,"s":"stdpower","g":"up"},{"t":20.9,"v":27.8,"s":"stdpower","g":"up"},{"t":21.2,"v":27.3,"s":"stdpower","g":"up"},{"t":21.5,"v":28.2,"s":"stdpower","g":"up"},{"t":21.8,"v":29.2,"s":"stdpower","g":"up"},{"t":22.05,"v":30.4,"s":"stdpower","g":"up"},{"t":22.3,"v":29.4,"s":"stdpower","g":"up"},{"t":22.55,"v":27.7,"s":"stdpower","g":"up"},{"t":22.8,"v":27.3,"s":"stdpower","g":"up"},{"t":23.1,"v":28.2,"s":"stdpower","g":"up"},{"t":23.3,"v":28.0,"s":"stdpower","g":"up"},{"t":23.45,"v":22,"s":"stdpower","g":"up"},{"t":23.6,"v":15.5,"s":"stdpower","g":"up"},{"t":23.8,"v":15.0,"s":"stdpower","g":"up"},{"t":24.05,"v":16.0,"s":"stdpower","g":"up"},{"t":24.3,"v":15.9,"s":"stdpower","g":"up"},{"t":24.55,"v":16.4,"s":"stdpower","g":"up"},{"t":24.8,"v":15.0,"s":"stdpower","g":"up"},{"t":25.05,"v":15.3,"s":"stdpower","g":"up"},{"t":25.3,"v":15.7,"s":"stdpower","g":"up"},{"t":25.5,"v":16.1,"s":"stdpower","g":"up"},{"t":25.8,"v":15.4,"s":"stdpower","g":"up"},{"t":26.1,"v":15.1,"s":"stdpower","g":"up"},{"t":26.25,"v":14.0,"s":"stdpower","g":"up"},{"t":26.4,"v":6,"s":"stdpower","g":"up"},{"t":26.55,"v":0,"s":"stdpower","g":"up"},{"t":27.65,"v":0,"s":"stdpower","g":"up"},

            {"t":0,"v":0,"s":"stdpower","g":"lo"},{"t":2.95,"v":0,"s":"stdpower","g":"lo"},{"t":3.15,"v":1.5,"s":"stdpower","g":"lo"},{"t":3.4,"v":2.5,"s":"stdpower","g":"lo"},{"t":4.5,"v":2.6,"s":"stdpower","g":"lo"},{"t":5.5,"v":2.5,"s":"stdpower","g":"lo"},{"t":5.9,"v":2.4,"s":"stdpower","g":"lo"},{"t":6.1,"v":1.6,"s":"stdpower","g":"lo"},{"t":6.3,"v":1.4,"s":"stdpower","g":"lo"},{"t":8.85,"v":1.4,"s":"stdpower","g":"lo"},{"t":9.05,"v":0,"s":"stdpower","g":"lo"},{"t":11.9,"v":0,"s":"stdpower","g":"lo"},{"t":12.1,"v":5,"s":"stdpower","g":"lo"},{"t":12.3,"v":8.3,"s":"stdpower","g":"lo"},{"t":12.6,"v":8.6,"s":"stdpower","g":"lo"},{"t":13.0,"v":8.9,"s":"stdpower","g":"lo"},{"t":13.35,"v":9.3,"s":"stdpower","g":"lo"},{"t":13.7,"v":8.9,"s":"stdpower","g":"lo"},{"t":14.0,"v":8.6,"s":"stdpower","g":"lo"},{"t":14.35,"v":8.7,"s":"stdpower","g":"lo"},{"t":14.55,"v":8.0,"s":"stdpower","g":"lo"},{"t":14.75,"v":5.5,"s":"stdpower","g":"lo"},{"t":14.95,"v":4.6,"s":"stdpower","g":"lo"},{"t":15.5,"v":4.5,"s":"stdpower","g":"lo"},{"t":16.5,"v":4.5,"s":"stdpower","g":"lo"},{"t":17.5,"v":4.5,"s":"stdpower","g":"lo"},{"t":17.7,"v":3.0,"s":"stdpower","g":"lo"},{"t":17.9,"v":0,"s":"stdpower","g":"lo"},{"t":20.45,"v":0,"s":"stdpower","g":"lo"},{"t":20.65,"v":6,"s":"stdpower","g":"lo"},{"t":20.85,"v":11.1,"s":"stdpower","g":"lo"},{"t":21.1,"v":11.6,"s":"stdpower","g":"lo"},{"t":21.35,"v":12.4,"s":"stdpower","g":"lo"},{"t":21.7,"v":12.0,"s":"stdpower","g":"lo"},{"t":22.0,"v":12.8,"s":"stdpower","g":"lo"},{"t":22.35,"v":12.0,"s":"stdpower","g":"lo"},{"t":22.7,"v":11.7,"s":"stdpower","g":"lo"},{"t":23.0,"v":12.0,"s":"stdpower","g":"lo"},{"t":23.3,"v":12.8,"s":"stdpower","g":"lo"},{"t":23.45,"v":10,"s":"stdpower","g":"lo"},{"t":23.65,"v":6.5,"s":"stdpower","g":"lo"},{"t":23.85,"v":5.4,"s":"stdpower","g":"lo"},{"t":24.2,"v":5.0,"s":"stdpower","g":"lo"},{"t":24.5,"v":5.2,"s":"stdpower","g":"lo"},{"t":24.9,"v":5.5,"s":"stdpower","g":"lo"},{"t":25.35,"v":6.3,"s":"stdpower","g":"lo"},{"t":25.7,"v":6.0,"s":"stdpower","g":"lo"},{"t":26.15,"v":5.8,"s":"stdpower","g":"lo"},{"t":26.3,"v":5.5,"s":"stdpower","g":"lo"},{"t":26.45,"v":2,"s":"stdpower","g":"lo"},{"t":26.6,"v":0,"s":"stdpower","g":"lo"},{"t":27.65,"v":0,"s":"stdpower","g":"lo"}
          ]},
          "encoding": {
            "x": {"field": "t", "type": "quantitative", "scale": {"domain": [0, 29.85], "nice": false, "zero": false},
                  "axis": {"values": [0, 5, 10, 15, 20, 25], "title": "time[min]", "tickSize": -4, "labelPadding": 10, "titlePadding": -6}},
            "y": {"field": "v", "type": "quantitative", "scale": {"domain": [-4.19, 28.8], "nice": false, "zero": false},
                  "axis": {"values": [0, 10, 20], "title": "[km/h],[W]", "titleFontSize": 20, "tickSize": 5, "labelPadding": 2, "titlePadding": 4, "titleY": 71.5}},
            "color": {"field": "s", "type": "nominal", "scale": {"domain": ["vTM", "meanpower", "stdpower"], "range": ["#a6a6a6", "#111111", "#111111"]},
                      "legend": {"title": null, "orient": "none", "legendX": 55.5, "legendY": 7, "symbolType": "stroke", "symbolSize": 784, "clipHeight": 21, "labelFontSize": 18, "labelColor": "#222", "labelOffset": 7, "rowPadding": 1,
                                 "encode": {"symbols": {"update": {
                                   "strokeDash": {"signal": "datum.value === 'stdpower' ? [1.5, 1] : [1, 0]"},
                                   "strokeWidth": {"signal": "datum.value === 'stdpower' ? 1.3 : 3.2"}}}}}},
            "strokeWidth": {"field": "s", "type": "nominal", "scale": {"type": "ordinal", "domain": ["vTM", "meanpower", "stdpower"], "range": [4, 2.2, 1.6]},
                      "legend": {"title": null, "orient": "none", "legendX": 55.5, "legendY": 7, "symbolType": "stroke", "symbolSize": 784, "clipHeight": 21, "labelFontSize": 18, "labelColor": "#222", "labelOffset": 7, "rowPadding": 1,
                                 "encode": {"symbols": {"update": {
                                   "strokeDash": {"signal": "datum.value === 'stdpower' ? [1.5, 1] : [1, 0]"},
                                   "strokeWidth": {"signal": "datum.value === 'stdpower' ? 1.3 : 3.2"}}}}}},
            "strokeDash": {"field": "s", "type": "nominal", "scale": {"domain": ["vTM", "meanpower", "stdpower"], "range": [[1, 0], [1, 0], [3, 2]]},
                      "legend": {"title": null, "orient": "none", "legendX": 55.5, "legendY": 7, "symbolType": "stroke", "symbolSize": 784, "clipHeight": 21, "labelFontSize": 18, "labelColor": "#222", "labelOffset": 7, "rowPadding": 1,
                                 "encode": {"symbols": {"update": {
                                   "strokeDash": {"signal": "datum.value === 'stdpower' ? [1.5, 1] : [1, 0]"},
                                   "strokeWidth": {"signal": "datum.value === 'stdpower' ? 1.3 : 3.2"}}}}}}
          },
          "layer": [
            {"transform": [{"filter": "datum.s == 'vTM'"}], "mark": {"type": "line", "interpolate": "linear"}},
            {"transform": [{"filter": "datum.s == 'stdpower'"}], "mark": {"type": "line", "interpolate": "monotone"}, "encoding": {"detail": {"field": "g"}}},
            {"transform": [{"filter": "datum.s == 'meanpower'"}], "mark": {"type": "line", "interpolate": "monotone"}}
          ]
        },
        {"data": {"values": [{}]}, "mark": {"type": "point", "shape": "triangle-up", "filled": true, "size": 80, "color": "#111", "opacity": 1},
         "encoding": {"x": {"datum": 0, "type": "quantitative"}, "y": {"datum": 28.8, "type": "quantitative"}}},
        {"data": {"values": [{}]}, "mark": {"type": "point", "shape": "triangle-right", "filled": true, "size": 80, "color": "#111", "opacity": 1},
         "encoding": {"x": {"datum": 29.85, "type": "quantitative"}, "y": {"datum": -4.19, "type": "quantitative"}}}
      ]
    }
  ]
}
